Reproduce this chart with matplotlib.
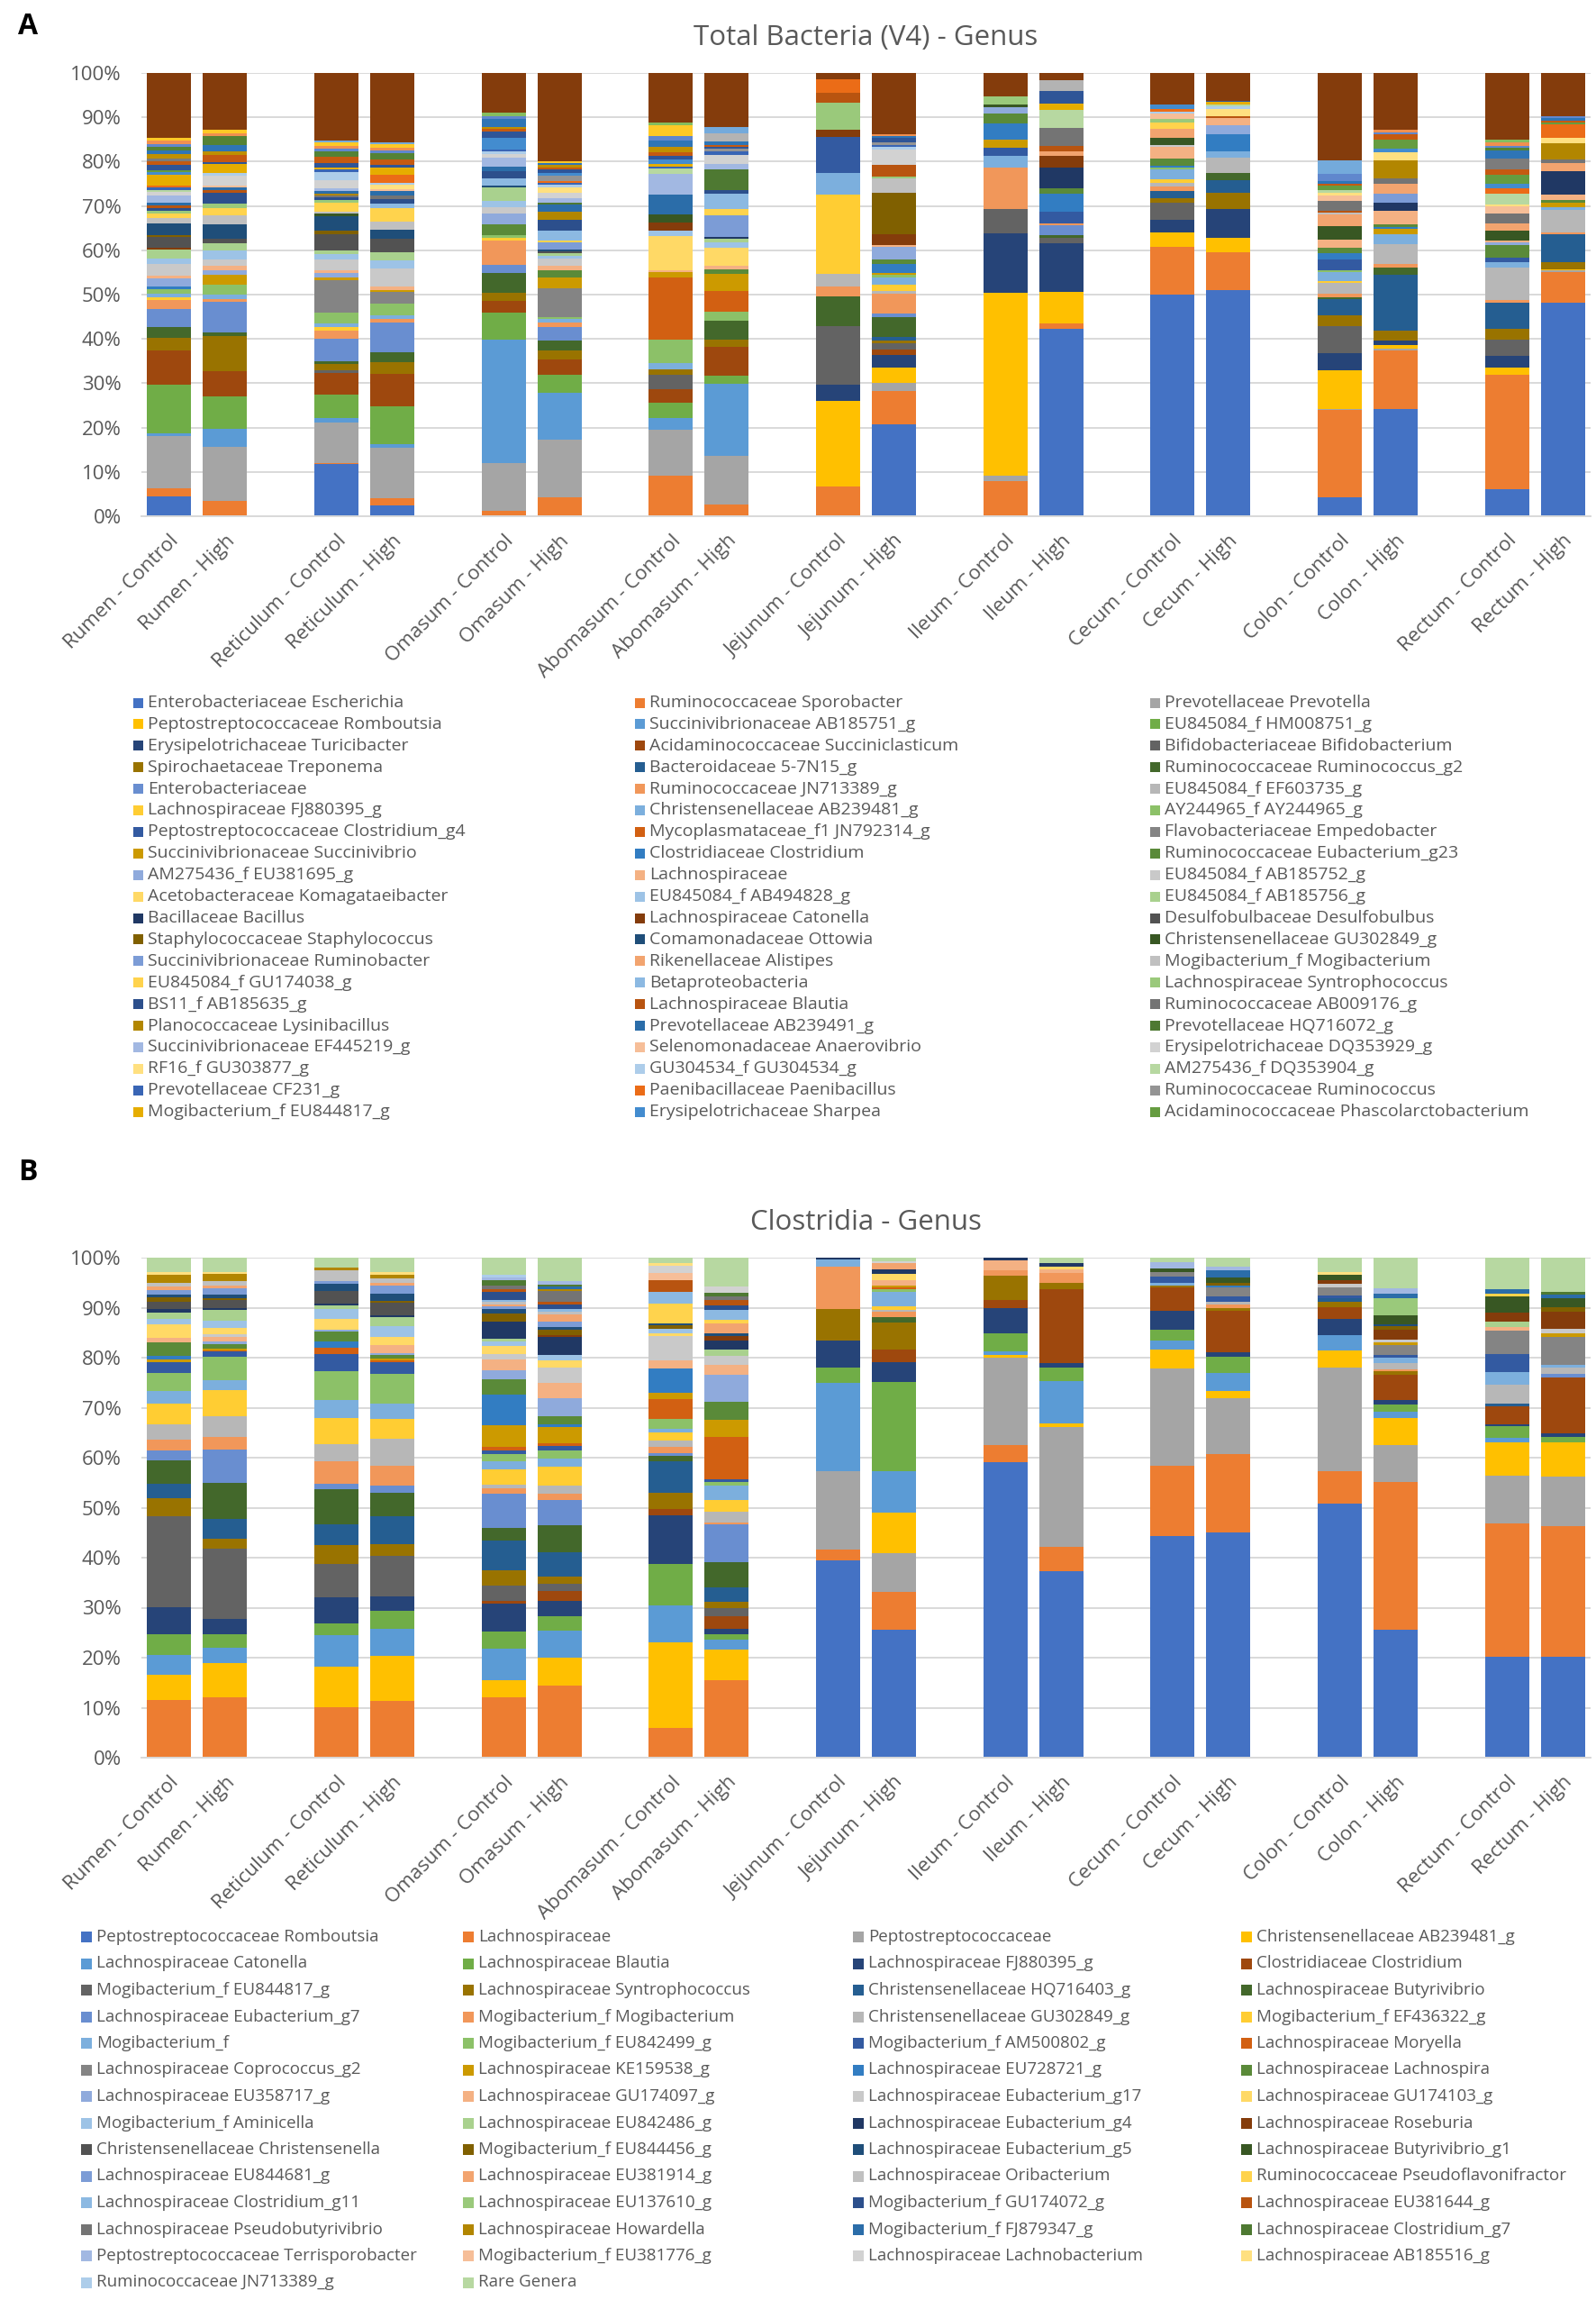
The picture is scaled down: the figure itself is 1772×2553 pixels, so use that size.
import colorsys
import numpy as np
import matplotlib
matplotlib.use("Agg")
import matplotlib.pyplot as plt
from matplotlib.patches import Rectangle
from matplotlib.colors import to_rgb, to_hex

# --- categories ---
SITES = ["Rumen", "Reticulum", "Omasum", "Abomasum", "Jejunum", "Ileum", "Cecum", "Colon", "Rectum"]
GROUPS = ["Control", "High"]

# --- series names (legend order, row-major as in the original) ---
A_NAMES = [
    "Enterobacteriaceae Escherichia", "Ruminococcaceae Sporobacter", "Prevotellaceae Prevotella",
    "Peptostreptococcaceae Romboutsia", "Succinivibrionaceae AB185751_g", "EU845084_f HM008751_g",
    "Erysipelotrichaceae Turicibacter", "Acidaminococcaceae Succiniclasticum", "Bifidobacteriaceae Bifidobacterium",
    "Spirochaetaceae Treponema", "Bacteroidaceae 5-7N15_g", "Ruminococcaceae Ruminococcus_g2",
    "Enterobacteriaceae", "Ruminococcaceae JN713389_g", "EU845084_f EF603735_g",
    "Lachnospiraceae FJ880395_g", "Christensenellaceae AB239481_g", "AY244965_f AY244965_g",
    "Peptostreptococcaceae Clostridium_g4", "Mycoplasmataceae_f1 JN792314_g", "Flavobacteriaceae Empedobacter",
    "Succinivibrionaceae Succinivibrio", "Clostridiaceae Clostridium", "Ruminococcaceae Eubacterium_g23",
    "AM275436_f EU381695_g", "Lachnospiraceae", "EU845084_f AB185752_g",
    "Acetobacteraceae Komagataeibacter", "EU845084_f AB494828_g", "EU845084_f AB185756_g",
    "Bacillaceae Bacillus", "Lachnospiraceae Catonella", "Desulfobulbaceae Desulfobulbus",
    "Staphylococcaceae Staphylococcus", "Comamonadaceae Ottowia", "Christensenellaceae GU302849_g",
    "Succinivibrionaceae Ruminobacter", "Rikenellaceae Alistipes", "Mogibacterium_f Mogibacterium",
    "EU845084_f GU174038_g", "Betaproteobacteria", "Lachnospiraceae Syntrophococcus",
    "BS11_f AB185635_g", "Lachnospiraceae Blautia", "Ruminococcaceae AB009176_g",
    "Planococcaceae Lysinibacillus", "Prevotellaceae AB239491_g", "Prevotellaceae HQ716072_g",
    "Succinivibrionaceae EF445219_g", "Selenomonadaceae Anaerovibrio", "Erysipelotrichaceae DQ353929_g",
    "RF16_f GU303877_g", "GU304534_f GU304534_g", "AM275436_f DQ353904_g",
    "Prevotellaceae CF231_g", "Paenibacillaceae Paenibacillus", "Ruminococcaceae Ruminococcus",
    "Mogibacterium_f EU844817_g", "Erysipelotrichaceae Sharpea", "Acidaminococcaceae Phascolarctobacterium",
]
A_N_SERIES = 73  # 60 listed in the legend + unlisted minor genera + top "rare" block

B_NAMES = [
    "Peptostreptococcaceae Romboutsia", "Lachnospiraceae", "Peptostreptococcaceae", "Christensenellaceae AB239481_g",
    "Lachnospiraceae Catonella", "Lachnospiraceae Blautia", "Lachnospiraceae FJ880395_g", "Clostridiaceae Clostridium",
    "Mogibacterium_f EU844817_g", "Lachnospiraceae Syntrophococcus", "Christensenellaceae HQ716403_g", "Lachnospiraceae Butyrivibrio",
    "Lachnospiraceae Eubacterium_g7", "Mogibacterium_f Mogibacterium", "Christensenellaceae GU302849_g", "Mogibacterium_f EF436322_g",
    "Mogibacterium_f", "Mogibacterium_f EU842499_g", "Mogibacterium_f AM500802_g", "Lachnospiraceae Moryella",
    "Lachnospiraceae Coprococcus_g2", "Lachnospiraceae KE159538_g", "Lachnospiraceae EU728721_g", "Lachnospiraceae Lachnospira",
    "Lachnospiraceae EU358717_g", "Lachnospiraceae GU174097_g", "Lachnospiraceae Eubacterium_g17", "Lachnospiraceae GU174103_g",
    "Mogibacterium_f Aminicella", "Lachnospiraceae EU842486_g", "Lachnospiraceae Eubacterium_g4", "Lachnospiraceae Roseburia",
    "Christensenellaceae Christensenella", "Mogibacterium_f EU844456_g", "Lachnospiraceae Eubacterium_g5", "Lachnospiraceae Butyrivibrio_g1",
    "Lachnospiraceae EU844681_g", "Lachnospiraceae EU381914_g", "Lachnospiraceae Oribacterium", "Ruminococcaceae Pseudoflavonifractor",
    "Lachnospiraceae Clostridium_g11", "Lachnospiraceae EU137610_g", "Mogibacterium_f GU174072_g", "Lachnospiraceae EU381644_g",
    "Lachnospiraceae Pseudobutyrivibrio", "Lachnospiraceae Howardella", "Mogibacterium_f FJ879347_g", "Lachnospiraceae Clostridium_g7",
    "Peptostreptococcaceae Terrisporobacter", "Mogibacterium_f EU381776_g", "Lachnospiraceae Lachnobacterium", "Lachnospiraceae AB185516_g",
    "Ruminococcaceae JN713389_g", "Rare Genera",
]

# --- Panel A: Total Bacteria (V4), (series index, % abundance) from bottom to top ---
A_RUMEN_C = [(0,4.4),(1,1.9),(2,11.8),(4,0.6),(5,10.9),(7,7.9),(9,2.7),(11,2.5),(12,4.0),(13,2.1),(15,0.6),(16,0.8),(17,1.1),(22,0.6),(24,1.7),(25,0.7),(26,2.7),(28,1.1),(29,2.0),(31,0.4),(32,2.5),(33,0.5),(34,2.6),(38,1.1),(39,1.0),(41,0.7),(42,0.7),(43,0.5),(46,0.6),(48,1.6),(50,0.9),(53,0.4),(54,0.5),(55,0.4),(57,2.5),(58,0.6),(59,0.5),(60,1.2),(61,0.8),(62,0.6),(63,1.0),(64,0.8),(65,0.9),(66,0.5),(67,0.8),(69,0.7),(72,14.6)]
A_RUMEN_H = [(1,3.4),(2,12.3),(4,4.1),(5,7.3),(7,5.7),(9,7.8),(11,0.8),(12,6.9),(13,0.7),(16,1.0),(17,2.3),(21,2.2),(24,1.0),(25,1.1),(26,1.3),(28,2.0),(29,1.6),(32,1.2),(34,3.2),(38,1.9),(39,1.7),(41,1.0),(42,2.5),(43,0.5),(46,0.6),(49,0.5),(50,2.3),(52,0.6),(57,1.9),(60,0.5),(61,1.6),(63,0.8),(64,1.5),(65,1.9),(67,0.6),(69,0.9),(72,12.8)]
A_RETIC_C = [(0,11.8),(1,0.2),(2,9.0),(4,1.0),(5,5.2),(7,4.9),(8,0.6),(9,1.5),(11,0.6),(12,5.1),(13,1.8),(15,0.8),(16,0.7),(17,2.4),(20,7.3),(21,0.6),(24,1.0),(25,0.7),(26,2.3),(28,1.2),(29,0.9),(32,3.7),(33,0.8),(34,3.2),(35,0.5),(38,0.5),(39,2.0),(41,0.6),(42,0.6),(44,0.5),(45,0.4),(46,0.5),(48,0.6),(50,1.9),(52,1.8),(54,0.5),(57,0.4),(60,1.0),(61,1.5),(65,1.2),(66,0.6),(67,0.6),(69,0.9),(70,0.3),(72,15.2)]
A_RETIC_H = [(0,2.5),(1,1.6),(2,11.3),(4,0.9),(5,8.4),(7,7.4),(9,2.7),(11,2.1),(12,6.9),(13,0.8),(16,0.8),(17,2.5),(20,2.7),(21,0.4),(25,0.8),(26,4.0),(28,1.9),(29,1.9),(32,3.0),(34,2.1),(38,1.8),(39,3.1),(40,1.0),(42,1.0),(44,0.8),(46,0.9),(49,0.5),(51,1.0),(52,0.5),(55,1.8),(57,1.6),(60,0.5),(61,1.2),(65,1.6),(66,0.5),(67,0.6),(69,0.9),(70,0.4),(72,15.6)]
A_OMAS_C = [(1,1.3),(2,10.7),(4,27.8),(5,6.1),(7,2.7),(9,1.9),(11,4.4),(12,1.9),(13,5.3),(15,0.7),(17,0.6),(23,2.5),(24,2.3),(26,1.6),(28,1.3),(29,3.1),(34,0.4),(40,1.6),(42,1.6),(46,1.0),(48,2.1),(50,0.8),(52,0.6),(54,0.5),(58,2.5),(60,1.5),(61,0.5),(63,0.5),(64,1.8),(66,0.7),(71,0.7),(72,9.0)]
A_OMAS_H = [(1,4.2),(2,13.1),(4,10.5),(5,4.1),(7,3.4),(9,2.2),(11,2.1),(12,3.1),(13,0.9),(16,0.9),(17,0.5),(20,6.5),(21,2.3),(23,1.6),(25,1.2),(26,1.6),(28,0.6),(29,0.5),(32,0.5),(34,0.4),(36,1.6),(39,0.4),(40,2.3),(42,2.3),(45,1.9),(46,1.6),(47,0.5),(48,1.0),(50,1.2),(51,1.2),(52,0.6),(54,0.5),(55,0.4),(56,1.2),(58,0.6),(60,0.8),(61,0.4),(63,0.5),(64,0.4),(69,0.4),(72,20.0)]
A_ABOM_C = [(1,9.1),(2,10.4),(4,2.6),(5,3.6),(7,3.0),(8,3.2),(9,1.3),(16,1.4),(17,5.2),(19,14.0),(21,1.2),(25,0.4),(27,7.8),(28,1.2),(31,1.9),(35,1.8),(46,4.4),(48,4.7),(53,1.2),(54,0.5),(57,0.6),(58,0.9),(60,1.0),(61,0.8),(63,1.1),(64,1.5),(66,1.0),(69,2.5),(71,0.6),(72,11.1)]
A_ABOM_H = [(1,2.7),(2,10.9),(4,16.3),(5,1.8),(7,6.5),(9,1.7),(11,4.3),(17,1.9),(19,4.7),(21,3.9),(23,0.9),(25,1.0),(27,3.9),(28,1.3),(29,0.8),(30,0.4),(36,4.8),(39,1.6),(40,3.3),(42,0.8),(47,4.7),(48,1.2),(50,2.1),(54,0.8),(56,0.6),(60,0.5),(61,0.4),(64,0.8),(68,1.7),(70,1.5),(72,12.2)]
A_JEJ_C = [(1,6.8),(3,19.2),(6,3.6),(8,13.2),(11,6.7),(13,2.3),(14,2.9),(15,17.9),(16,4.8),(18,8.2),(31,1.6),(41,6.0),(43,2.3),(55,3.1),(72,1.4)]
A_JEJ_H = [(0,20.9),(1,7.5),(2,1.9),(3,3.4),(6,2.8),(7,1.2),(8,1.5),(9,0.6),(10,0.9),(11,4.3),(12,0.9),(13,4.6),(14,0.5),(15,1.5),(16,1.6),(17,0.6),(21,0.4),(22,2.1),(23,0.9),(24,2.9),(25,0.5),(31,2.3),(33,9.4),(38,3.3),(41,0.5),(43,2.6),(50,3.5),(52,0.5),(54,0.5),(56,0.5),(60,1.2),(64,0.4),(67,0.4),(72,13.8)]
A_ILEUM_C = [(1,7.9),(2,1.2),(3,41.4),(6,13.3),(8,5.6),(13,9.3),(16,2.6),(18,1.9),(21,1.7),(22,3.7),(23,2.3),(24,1.4),(35,0.5),(41,1.9),(72,5.3)]
A_ILEUM_H = [(0,42.2),(1,1.2),(3,7.2),(6,10.9),(8,1.4),(11,0.5),(12,2.2),(13,0.5),(18,2.7),(22,4.0),(23,1.1),(30,4.7),(31,2.6),(37,1.2),(43,1.2),(44,4.1),(53,4.0),(57,1.4),(60,2.9),(68,2.3),(72,1.7)]
A_CECUM_C = [(0,49.8),(1,10.8),(3,3.2),(6,2.9),(8,3.9),(9,1.0),(10,1.7),(13,0.9),(14,0.9),(15,0.8),(16,2.1),(17,0.6),(22,0.4),(23,1.6),(25,2.5),(26,0.4),(35,1.6),(37,2.2),(39,1.3),(41,0.8),(49,1.2),(52,0.5),(55,0.5),(58,1.2),(72,7.0)]
A_CECUM_H = [(0,51.0),(1,8.5),(3,3.3),(6,6.6),(9,3.5),(10,3.0),(11,1.6),(14,3.3),(16,1.6),(22,3.7),(24,2.2),(25,1.6),(43,0.4),(51,1.6),(52,0.5),(53,0.5),(57,0.5),(60,0.4),(72,6.2)]
A_COLON_C = [(0,4.3),(1,19.6),(2,0.2),(3,8.8),(6,3.9),(8,6.0),(9,2.5),(10,3.7),(11,0.4),(13,0.8),(14,2.5),(15,0.4),(16,1.9),(17,0.4),(18,2.6),(22,1.3),(23,1.2),(25,1.8),(35,3.1),(37,2.6),(38,0.5),(43,0.5),(44,2.2),(49,1.2),(51,0.5),(53,0.6),(59,1.0),(61,0.5),(64,0.7),(66,1.6),(70,2.9),(72,19.8)]
A_COLON_H = [(0,23.9),(1,13.0),(2,0.4),(3,0.8),(6,0.9),(9,2.3),(10,12.3),(11,1.6),(13,0.8),(14,4.5),(16,2.1),(21,1.2),(22,0.5),(23,0.6),(25,2.9),(30,1.9),(36,1.9),(37,2.3),(44,1.2),(45,3.9),(51,1.9),(58,0.8),(59,1.9),(61,1.2),(66,0.5),(67,0.6),(72,12.5)]
A_RECT_C = [(0,6.0),(1,25.7),(3,1.7),(6,2.6),(8,3.5),(9,2.5),(10,5.9),(13,0.5),(14,7.4),(16,1.2),(18,1.0),(23,2.9),(24,0.5),(25,0.4),(35,2.2),(37,1.7),(44,2.2),(49,1.5),(51,0.6),(53,2.3),(55,1.2),(58,1.0),(59,2.0),(61,1.2),(62,2.5),(64,1.8),(65,0.6),(66,0.5),(67,0.8),(71,0.5),(72,15.0)]
A_RECT_H = [(0,47.3),(1,6.6),(2,0.4),(3,0.3),(9,1.6),(10,6.2),(13,0.4),(14,4.9),(16,0.7),(21,1.0),(23,0.5),(25,1.2),(30,5.2),(37,1.8),(44,0.8),(45,3.5),(51,1.2),(55,3.0),(59,0.5),(61,0.4),(64,0.5),(66,0.5),(72,9.5)]

# --- Panel B: Clostridia ---
B_RUMEN_C = [(1,11.6),(3,5.0),(4,3.9),(5,4.1),(6,5.5),(8,18.2),(9,3.6),(10,2.9),(11,4.6),(12,2.0),(13,2.1),(14,3.1),(15,4.1),(16,2.6),(17,3.6),(18,2.1),(21,0.6),(22,0.6),(23,2.8),(25,0.8),(27,2.8),(28,1.1),(29,1.2),(30,0.7),(32,1.4),(33,0.9),(34,0.7),(36,0.9),(37,0.7),(38,0.7),(45,1.6),(51,0.5),(53,2.9)]
B_RUMEN_H = [(1,12.0),(3,6.9),(4,3.0),(5,2.7),(6,3.1),(8,14.1),(9,2.0),(10,3.9),(11,7.3),(12,6.6),(13,2.5),(14,4.2),(15,5.2),(16,2.0),(17,4.6),(18,1.1),(19,0.3),(21,0.3),(23,0.9),(24,0.6),(25,0.9),(26,0.4),(27,1.4),(28,1.4),(29,2.1),(30,0.4),(32,1.6),(33,0.4),(34,0.8),(36,1.1),(37,0.6),(38,1.0),(45,1.4),(51,0.4),(53,2.8)]
B_RETIC_C = [(1,10.0),(3,8.2),(4,6.2),(5,2.4),(6,5.2),(8,6.7),(9,3.8),(10,4.1),(11,6.9),(12,1.2),(13,4.5),(14,3.4),(15,5.2),(16,3.6),(17,5.7),(18,3.4),(19,1.4),(22,1.1),(23,2.1),(24,0.4),(27,2.0),(28,2.1),(29,0.7),(30,0.3),(32,2.5),(34,1.4),(36,0.7),(38,2.0),(45,0.7),(53,1.9)]
B_RETIC_H = [(1,11.4),(3,8.9),(4,5.4),(5,3.6),(6,2.9),(8,8.1),(9,2.4),(10,5.6),(11,4.6),(12,1.6),(13,3.9),(14,5.4),(15,3.9),(16,3.2),(17,5.9),(18,2.3),(19,0.4),(21,0.3),(23,0.7),(24,0.4),(25,1.7),(27,1.6),(28,2.1),(29,1.8),(30,0.4),(32,2.5),(33,0.4),(34,1.4),(36,1.6),(37,0.5),(38,1.0),(45,0.6),(51,0.7),(53,2.8)]
B_OMAS_C = [(1,12.0),(3,3.4),(4,6.1),(5,3.4),(6,5.6),(7,0.6),(8,3.0),(9,3.0),(10,5.9),(11,2.5),(12,6.8),(13,1.1),(14,0.7),(15,2.9),(16,1.6),(17,1.5),(18,0.7),(19,0.7),(21,4.3),(22,6.1),(23,3.0),(24,1.8),(25,2.1),(26,1.2),(27,1.6),(28,0.9),(29,0.5),(30,3.4),(33,1.6),(34,0.9),(36,0.4),(37,0.5),(38,0.4),(40,0.5),(42,1.6),(43,0.5),(44,0.7),(47,1.1),(48,0.4),(52,0.6),(53,3.4)]
B_OMAS_H = [(1,14.3),(3,5.5),(4,5.4),(5,2.9),(6,3.0),(7,2.0),(8,1.4),(9,1.4),(10,4.9),(11,5.2),(12,5.0),(13,1.4),(14,1.6),(15,3.6),(16,1.6),(17,1.6),(18,0.9),(19,0.7),(21,3.2),(22,0.5),(23,1.6),(24,3.6),(25,2.9),(26,3.1),(27,1.4),(28,1.2),(30,3.4),(31,0.4),(33,1.1),(34,0.5),(36,1.1),(37,1.4),(38,0.5),(40,0.7),(42,0.9),(43,0.5),(44,2.1),(45,0.4),(46,0.4),(47,0.5),(48,0.7),(53,4.6)]
B_ABOM_C = [(1,5.9),(3,17.2),(4,7.3),(5,8.4),(6,9.6),(7,1.4),(9,3.1),(10,6.4),(11,1.1),(12,0.5),(13,1.3),(14,1.3),(15,1.6),(16,0.7),(17,1.9),(19,4.0),(21,1.2),(22,4.9),(25,1.6),(26,5.0),(27,0.5),(28,0.9),(33,0.7),(34,0.4),(39,3.9),(40,2.3),(43,2.4),(49,1.4),(50,1.4),(51,0.7),(53,1.0)]
B_ABOM_H = [(1,15.6),(3,6.0),(4,2.1),(5,1.1),(6,1.1),(7,2.4),(8,1.6),(9,1.4),(10,2.9),(11,5.0),(12,7.5),(13,0.4),(14,2.1),(15,2.5),(16,2.9),(17,0.6),(18,0.5),(19,8.6),(21,3.4),(23,3.6),(24,5.4),(25,2.0),(26,1.8),(29,1.3),(30,1.8),(31,0.9),(34,0.5),(37,2.1),(39,0.7),(40,1.9),(42,0.9),(43,1.1),(44,0.7),(47,0.7),(50,1.4),(53,5.7)]
B_JEJ_C = [(0,39.4),(1,2.2),(2,15.7),(4,17.6),(5,3.2),(6,5.4),(9,6.3),(13,8.4),(16,1.4),(30,0.4)]
B_JEJ_H = [(0,25.2),(1,7.4),(2,7.6),(3,8.0),(4,8.0),(5,17.5),(6,4.0),(7,2.4),(9,5.4),(11,1.1),(13,0.9),(14,0.5),(15,0.6),(16,2.9),(17,0.5),(19,0.4),(21,0.4),(25,0.9),(27,1.3),(30,0.9),(37,1.2),(50,0.4),(53,0.7)]
B_ILEUM_C = [(0,58.9),(1,3.4),(2,17.5),(3,0.5),(4,0.7),(5,3.7),(6,4.9),(7,1.6),(9,4.9),(13,1.1),(25,1.9),(30,0.6)]
B_ILEUM_H = [(0,37.5),(1,4.8),(2,24.1),(3,0.7),(4,8.6),(5,2.7),(6,0.9),(7,14.9),(9,1.2),(13,2.1),(25,0.7),(27,0.5),(30,0.7),(53,1.1)]
B_CECUM_C = [(0,44.3),(1,14.1),(2,19.4),(3,3.9),(4,1.8),(5,2.1),(6,3.8),(7,4.6),(9,0.4),(16,0.5),(18,1.4),(20,0.9),(35,0.7),(48,1.2),(53,0.9)]
B_CECUM_H = [(0,44.9),(1,15.7),(2,11.2),(3,1.3),(4,3.6),(5,3.4),(6,0.9),(7,8.2),(9,0.6),(13,0.6),(14,0.5),(18,1.1),(20,1.8),(22,0.5),(33,0.5),(35,1.1),(46,1.4),(48,0.7),(53,1.8)]
B_COLON_C = [(0,50.2),(1,6.4),(2,20.6),(3,3.4),(4,3.0),(6,3.1),(7,2.4),(9,1.1),(10,0.6),(18,0.6),(20,1.7),(26,0.7),(31,0.7),(35,1.1),(51,0.4),(53,2.9)]
B_COLON_H = [(0,25.7),(1,29.5),(2,7.5),(3,5.4),(4,1.2),(5,1.4),(6,0.9),(7,5.2),(9,0.6),(13,0.5),(14,1.1),(16,1.1),(18,0.6),(20,1.9),(21,0.6),(26,0.5),(31,2.1),(33,0.7),(34,0.4),(35,1.8),(41,3.4),(46,0.9),(48,1.1),(53,6.1)]
B_RECT_C = [(0,20.1),(1,26.5),(2,9.6),(3,6.5),(4,0.9),(5,2.3),(6,0.4),(7,3.6),(10,0.5),(14,3.9),(16,2.5),(18,3.6),(20,4.6),(25,0.7),(29,1.1),(31,1.8),(35,3.2),(39,0.6),(46,0.9),(53,6.2)]
B_RECT_H = [(0,20.0),(1,26.1),(2,9.9),(3,6.8),(5,1.1),(6,0.7),(7,11.0),(12,0.7),(14,1.4),(16,0.5),(20,5.6),(21,0.7),(26,0.9),(31,3.3),(33,0.9),(35,1.8),(46,0.7),(47,0.6),(53,6.8)]

A_BARS = [A_RUMEN_C, A_RUMEN_H, A_RETIC_C, A_RETIC_H, A_OMAS_C, A_OMAS_H, A_ABOM_C, A_ABOM_H,
          A_JEJ_C, A_JEJ_H, A_ILEUM_C, A_ILEUM_H, A_CECUM_C, A_CECUM_H, A_COLON_C, A_COLON_H,
          A_RECT_C, A_RECT_H]
B_BARS = [B_RUMEN_C, B_RUMEN_H, B_RETIC_C, B_RETIC_H, B_OMAS_C, B_OMAS_H, B_ABOM_C, B_ABOM_H,
          B_JEJ_C, B_JEJ_H, B_ILEUM_C, B_ILEUM_H, B_CECUM_C, B_CECUM_H, B_COLON_C, B_COLON_H,
          B_RECT_C, B_RECT_H]

# --- Excel-like palette: 6 accents, then luminance shade/tint cycles ---
ACCENTS = ["#4472C4", "#ED7D31", "#A5A5A5", "#FFC000", "#5B9BD5", "#70AD47"]
MODS = [("s", 1.0), ("s", 0.6), ("t", 0.2), ("s", 0.8), ("t", 0.4), ("s", 0.5),
        ("t", 0.3), ("s", 0.7), ("t", 0.5), ("s", 0.9), ("s", 0.75), ("t", 0.15)]


def excel_color(i):
    kind, k = MODS[i // 6]
    h, l, s = colorsys.rgb_to_hls(*to_rgb(ACCENTS[i % 6]))
    l = l * k if kind == "s" else l + (1 - l) * k
    return to_hex(np.clip(colorsys.hls_to_rgb(h, l, s), 0, 1))


A_COLORS = [excel_color(i) for i in range(72)] + ["#843C0C"]
B_COLORS = [excel_color(i) for i in range(54)]

TEXT = "#595959"
W, H = 1772, 2553
plt.rcParams["font.family"] = ["Open Sans", "DejaVu Sans"]

fig = plt.figure(figsize=(W / 100, H / 100), dpi=100)

slots = [3 * g + k for g in range(len(SITES)) for k in range(2)]
labels = [f"{s} - {grp}" for s in SITES for grp in GROUPS]


def draw_panel(ax, bars, n_series, colors, title):
    mat = np.zeros((n_series, len(bars)))
    for j, seg in enumerate(bars):
        for idx, v in seg:
            mat[idx, j] = v
    mat = mat / mat.sum(axis=0) * 100  # 100% stacked, like the original
    bottom = np.zeros(len(bars))
    for i in range(n_series):
        if mat[i].sum() == 0:
            continue
        ax.bar(slots, mat[i], bottom=bottom, width=0.79, color=colors[i], linewidth=0)
        bottom += mat[i]
    ax.set_xlim(-0.5, 25.5)
    ax.set_ylim(0, 100)
    ax.set_yticks(np.arange(0, 101, 10))
    ax.set_yticklabels([f"{v}%" for v in range(0, 101, 10)])
    ax.set_xticks(slots)
    ax.set_xticklabels(labels, rotation=45, ha="right", va="top", rotation_mode="anchor")
    ax.tick_params(axis="both", length=0, labelsize=16, labelcolor=TEXT)
    ax.tick_params(axis="y", pad=16)
    ax.tick_params(axis="x", pad=12)
    ax.set_axisbelow(True)
    ax.yaxis.grid(True, color="#D9D9D9", lw=1.4)
    for sp in ["left", "right", "top"]:
        ax.spines[sp].set_visible(False)
    ax.spines["bottom"].set_color("#D9D9D9")
    ax.spines["bottom"].set_linewidth(1.4)
    ax.set_title(title, fontsize=22.5, color=TEXT, pad=22)


def draw_legend(names, colors, col_x, y0, dy, size, fsize):
    ncol = len(col_x)
    for i, name in enumerate(names):
        r, c = divmod(i, ncol)
        x, y = col_x[c], y0 + r * dy
        fig.patches.append(Rectangle((x / W, 1 - (y + size / 2) / H), size / W, size / H,
                                     transform=fig.transFigure, facecolor=colors[i], lw=0))
        fig.text((x + size + 5) / W, 1 - y / H, name, va="center", ha="left",
                 fontsize=fsize, color=TEXT)


axA = fig.add_axes([157 / W, 1 - 573 / H, (1766 - 157) / W, (573 - 81) / H])
draw_panel(axA, A_BARS, A_N_SERIES, A_COLORS, "Total Bacteria (V4) - Genus")
axB = fig.add_axes([157 / W, 1 - 1951 / H, (1766 - 157) / W, (1951 - 1396) / H])
draw_panel(axB, B_BARS, len(B_NAMES), B_COLORS, "Clostridia - Genus")

draw_legend(A_NAMES, A_COLORS, [148, 705, 1277], 780, 23.9, 11, 14)
draw_legend(B_NAMES, B_COLORS, [90, 514, 947, 1378], 2150, 29.5, 12, 13.5)

fig.text(20 / W, 1 - 29 / H, "A", fontsize=23, fontweight="bold", va="center", ha="left")
fig.text(20 / W, 1 - 1302 / H, "B", fontsize=23, fontweight="bold", va="center", ha="left")

fig.savefig("out.png", dpi=100, facecolor="white")
